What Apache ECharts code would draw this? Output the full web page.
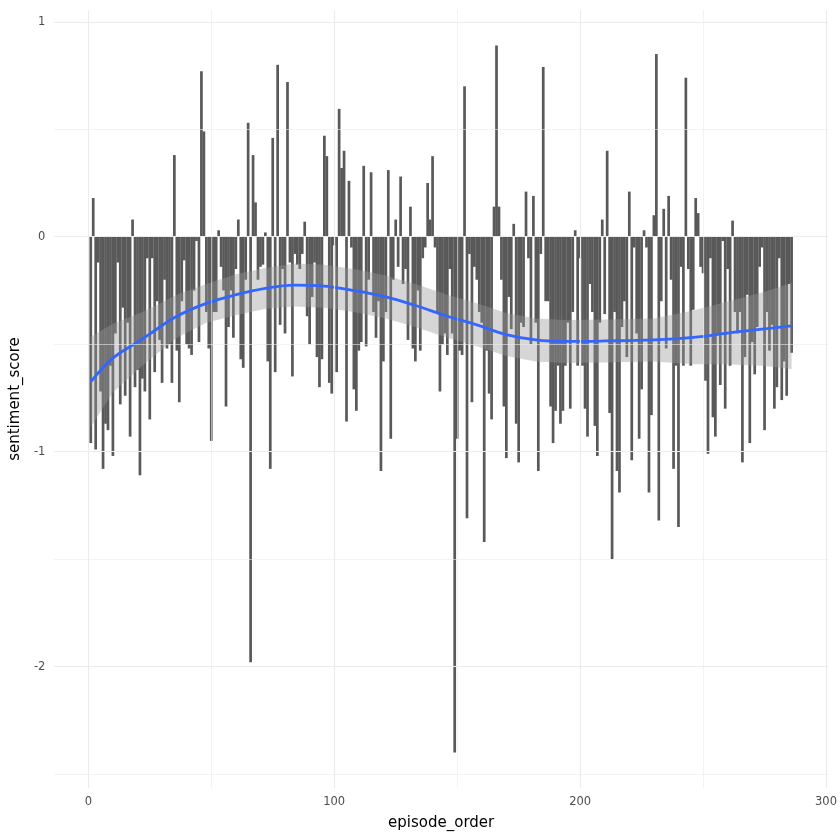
<!DOCTYPE html>
<html>
<head>
<meta charset="utf-8">
<script src="https://cdn.jsdelivr.net/npm/echarts@6/dist/echarts.min.js"></script>
<style>
html,body{margin:0;padding:0;background:#ffffff;}
#chart{width:840px;height:840px;}
</style>
</head>
<body>
<div id="chart"></div>
<script>
// sentiment score per episode (episode_order = 1..286)
const sentimentScore = [
 -0.96, 0.18, -0.99, -0.12, -0.72, -1.08, -0.87, -0.90, -0.60, -1.02,
 -0.45, -0.12, -0.78, -0.33, -0.74, -0.40, -0.93, 0.08, -0.70, -0.62,
 -1.11, -0.66, -0.72, -0.10, -0.85, -0.10, -0.63, -0.30, -0.48, -0.68,
 -0.20, -0.52, -0.50, -0.68, 0.38, -0.53, -0.77, -0.30, -0.11, -0.50,
 -0.52, -0.55, -0.25, -0.02, -0.49, 0.77, 0.49, -0.35, -0.52, -0.95,
 -0.35, -0.35, 0.03, -0.14, -0.25, -0.79, -0.42, -0.25, -0.47, -0.15,
 0.08, -0.57, -0.61, -0.20, 0.53, -1.98, 0.38, 0.16, -0.20, -0.14,
 -0.13, 0.02, -0.58, -1.08, 0.46, -0.63, 0.80, -0.41, -0.15, -0.45,
 0.72, -0.12, -0.65, -0.08, -0.13, -0.15, -0.08, 0.07, -0.37, -0.50,
 -0.28, -0.12, -0.56, -0.70, -0.57, 0.47, 0.375, -0.68, -0.73, -0.04,
 -0.63, 0.595, 0.32, 0.40, -0.86, 0.26, -0.05, -0.71, -0.81, -0.53,
 -0.49, 0.33, -0.51, -0.20, 0.30, -0.35, -0.47, -0.30, -1.09, -0.58,
 -0.35, 0.31, -0.94, -0.20, 0.08, -0.14, 0.28, -0.22, -0.15, -0.48,
 0.14, -0.52, -0.58, -0.25, -0.53, -0.10, -0.05, 0.25, 0.08, 0.375,
 -0.05, -0.35, -0.72, -0.50, -0.45, -0.55, -0.15, -0.45, -2.40, -0.94,
 -0.53, -0.55, 0.70, -1.31, -0.08, -0.77, -0.14, -0.20, -0.35, -0.40,
 -1.42, -0.53, -0.73, -0.85, 0.14, 0.89, 0.14, -0.20, -0.79, -1.03,
 -0.28, -0.43, 0.06, -0.87, -1.05, -0.40, -0.42, 0.21, -0.10, -0.50,
 0.19, -0.40, -1.09, -0.08, 0.79, -0.30, -0.30, -0.79, -0.96, -0.81,
 -0.60, -0.87, -0.81, -0.60, -0.40, -0.80, -0.35, 0.03, -0.60, -0.10,
 -0.60, -0.80, -0.93, -0.22, -0.35, -0.88, -1.02, -0.40, 0.08, -0.36,
 0.40, -0.82, -1.50, -0.35, -1.09, -1.19, -0.42, -0.30, -0.56, 0.21,
 -1.04, -0.05, -0.45, -0.94, -0.71, 0.03, -0.05, -1.19, -0.83, 0.10,
 0.85, -1.32, -0.30, 0.13, -0.52, 0.19, -0.20, -1.08, -0.60, -1.35,
 -0.14, -0.60, 0.74, -0.15, -0.60, -0.34, 0.18, 0.11, -0.14, -0.17,
 -0.67, -1.01, -0.10, -0.84, -0.93, -0.45, -0.69, -0.02, -0.80, -0.15,
 -0.60, 0.075, -0.35, -0.45, -0.35, -1.05, -0.56, -0.27, -0.96, -0.49,
 -0.64, -0.42, -0.14, -0.05, -0.90, -0.35, -0.53, -0.41, -0.80, -0.70,
 -0.10, -0.76, -0.58, -0.74, -0.22, -0.54
];

// smoothed trend and its confidence band
const smoothEpisode = [1, 10, 20, 24, 36, 48, 60, 72, 84, 96, 108, 121, 133, 146, 158, 170, 182, 194, 210, 230, 246, 262, 274, 286];
const smoothFit     = [-0.675, -0.565, -0.49, -0.46, -0.37, -0.31, -0.27, -0.24, -0.225, -0.23, -0.25, -0.28, -0.32, -0.37, -0.41, -0.455, -0.48, -0.487, -0.485, -0.48, -0.468, -0.445, -0.43, -0.415];
const smoothLower   = [-0.885, -0.725, -0.62, -0.58, -0.47, -0.40, -0.365, -0.335, -0.325, -0.33, -0.35, -0.38, -0.42, -0.47, -0.51, -0.555, -0.58, -0.587, -0.585, -0.58, -0.593, -0.595, -0.60, -0.615];
const smoothUpper   = [-0.465, -0.405, -0.36, -0.34, -0.27, -0.22, -0.175, -0.145, -0.125, -0.13, -0.15, -0.18, -0.22, -0.27, -0.31, -0.355, -0.38, -0.387, -0.385, -0.38, -0.343, -0.295, -0.26, -0.215];

const xTicks = [0, 100, 200, 300];
const xMinorGrid = [50, 150, 250];
const yTicks = [-2, -1, 0, 1];
const yMinorGrid = [-2.5, -1.5, -0.5, 0.5];

const barData = sentimentScore.map((v, i) => [i + 1, v]);
const bandData = smoothEpisode.map((e, i) => [e, smoothLower[i], smoothUpper[i]]);
const fitData = smoothEpisode.map((e, i) => [e, smoothFit[i]]);

const gridMarks = [];
yTicks.forEach(v => gridMarks.push({yAxis: v, lineStyle: {color: '#ebebeb', width: 1.1, type: 'solid'}}));
yMinorGrid.forEach(v => gridMarks.push({yAxis: v, lineStyle: {color: '#ebebeb', width: 0.6, type: 'solid'}}));
xTicks.forEach(v => gridMarks.push({xAxis: v, lineStyle: {color: '#ebebeb', width: 1.1, type: 'solid'}}));
xMinorGrid.forEach(v => gridMarks.push({xAxis: v, lineStyle: {color: '#ebebeb', width: 0.6, type: 'solid'}}));

const FONT = 'DejaVu Sans';
const BAR_HALF = 0.55;
const chart = echarts.init(document.getElementById('chart'), null, {renderer: 'canvas'});
chart.setOption({
  animation: false,
  backgroundColor: '#ffffff',
  textStyle: {fontFamily: FONT},
  grid: {left: 53, right: 12, top: 10, bottom: 52, containLabel: false},
  xAxis: {
    type: 'value', min: -13.8, max: 300.8,
    axisLine: {show: false}, axisTick: {show: false}, splitLine: {show: false},
    axisLabel: {customValues: xTicks, color: '#4d4d4d', fontSize: 11.5, fontFamily: FONT, margin: 8},
    name: 'episode_order', nameLocation: 'middle', nameGap: 28,
    nameTextStyle: {color: '#000000', fontSize: 15, fontFamily: FONT}
  },
  yAxis: {
    type: 'value', min: -2.565, max: 1.055,
    axisLine: {show: false}, axisTick: {show: false}, splitLine: {show: false},
    axisLabel: {customValues: yTicks, color: '#4d4d4d', fontSize: 11.5, fontFamily: FONT, margin: 9},
    name: 'sentiment_score', nameLocation: 'middle', nameGap: 30, nameRotate: 90,
    nameTextStyle: {color: '#000000', fontSize: 15, fontFamily: FONT}
  },
  series: [
    {
      type: 'line', data: [[0, 0]], symbol: 'none', lineStyle: {opacity: 0}, z: 0, silent: true,
      markLine: {silent: true, symbol: ['none', 'none'], label: {show: false}, animation: false, data: gridMarks}
    },
    {
      type: 'custom', data: barData, z: 2, silent: true,
      encode: {x: 0, y: 1},
      renderItem: function (params, api) {
        const x = api.value(0), v = api.value(1);
        const p1 = api.coord([x - BAR_HALF, v]);
        const p2 = api.coord([x + BAR_HALF, 0]);
        return {
          type: 'rect',
          shape: {x: p1[0], y: Math.min(p1[1], p2[1]), width: p2[0] - p1[0], height: Math.abs(p2[1] - p1[1])},
          style: {fill: '#595959'}
        };
      }
    },
    {
      type: 'custom', data: bandData, z: 3, silent: true,
      encode: {x: 0, y: [1, 2]},
      renderItem: function (params, api) {
        if (params.dataIndex !== 0) return null;
        const upper = bandData.map(d => api.coord([d[0], d[2]]));
        const lower = bandData.map(d => api.coord([d[0], d[1]])).reverse();
        return {
          type: 'polygon',
          shape: {points: upper.concat(lower)},
          style: {fill: 'rgba(153,153,153,0.4)', stroke: null}
        };
      }
    },
    {
      type: 'line', data: fitData, smooth: 0.4, symbol: 'none',
      lineStyle: {color: '#3366FF', width: 2.8}, z: 4, silent: true
    }
  ]
});
</script>
</body>
</html>
